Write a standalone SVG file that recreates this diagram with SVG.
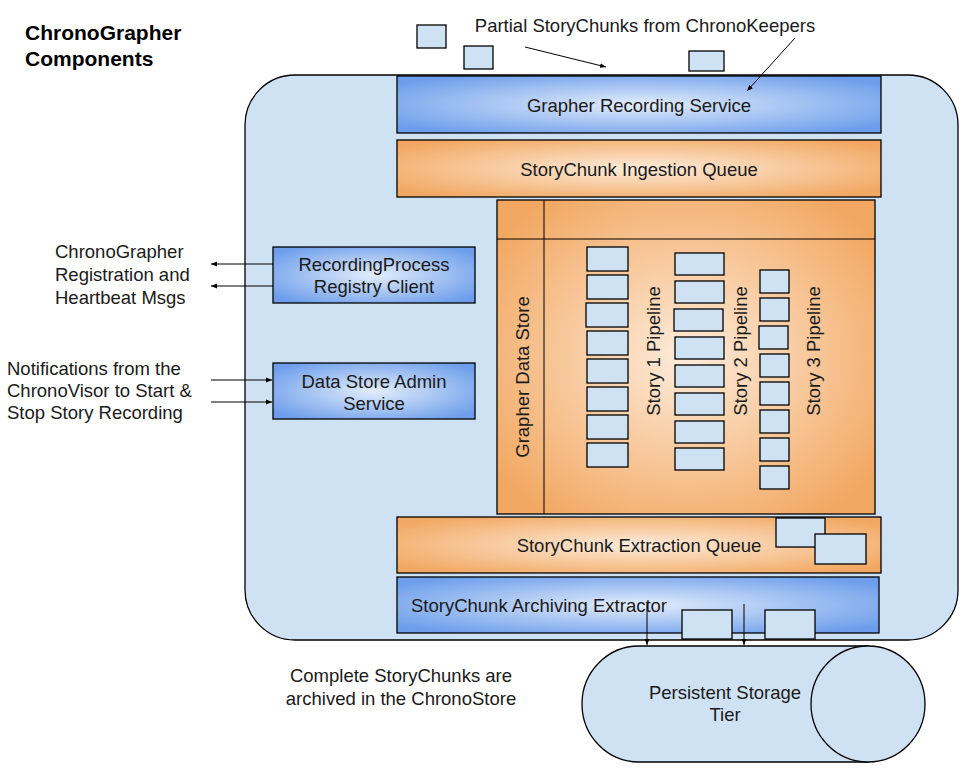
<svg xmlns="http://www.w3.org/2000/svg" width="963" height="772" viewBox="0 0 963 772">
<style>
text{font-family:"Liberation Sans",Arial,sans-serif;fill:#1a1a1a;font-size:18.5px}
.c{text-anchor:middle}
.title{font-weight:bold;font-size:21px;fill:#000}
.lb{fill:#cfe2f3;stroke:#000;stroke-width:1.3}
.bl{fill:url(#gb);stroke:#000;stroke-width:1.3}
.or{fill:url(#go);stroke:#000;stroke-width:1.3}
.ln{stroke:#000;stroke-width:1;fill:none}
.arr{stroke:#000;stroke-width:1;fill:none;marker-end:url(#ah)}
</style>
<defs>
<radialGradient id="gb" cx="50%" cy="50%" r="62%">
<stop offset="0" stop-color="#e3edfb"/>
<stop offset="1" stop-color="#6d9eeb"/>
</radialGradient>
<radialGradient id="go" cx="50%" cy="50%" r="62%">
<stop offset="0" stop-color="#fdecdb"/>
<stop offset="1" stop-color="#f2a862"/>
</radialGradient>
<marker id="ah" viewBox="0 0 10 10" refX="10" refY="5" markerWidth="6" markerHeight="6" markerUnits="userSpaceOnUse" orient="auto">
<path d="M0,1 L10,5 L0,9 z" fill="#000"/>
</marker>
</defs>
<rect width="963" height="772" fill="#fff"/>

<g id="title">
<text class="title" x="25" y="40">ChronoGrapher</text>
<text class="title" x="25" y="66">Components</text>
</g>

<g id="container">
<rect x="245" y="75" width="713" height="565" rx="50" ry="50" class="lb"/>
</g>

<g id="incoming-chunks">
<text x="645" y="32" class="c">Partial StoryChunks from ChronoKeepers</text>
<rect x="417" y="25" width="29" height="23" class="lb"/>
<rect x="464" y="46" width="29" height="23" class="lb"/>
<rect x="689" y="51" width="35" height="20" class="lb"/>
</g>

<g id="recording-service">
<rect x="397" y="76" width="484" height="57" class="bl"/>
<text x="639" y="112" class="c">Grapher Recording Service</text>
</g>

<g id="ingestion-queue">
<rect x="397" y="140" width="484" height="57" class="or"/>
<text x="639" y="176" class="c">StoryChunk Ingestion Queue</text>
</g>

<g id="grapher-data-store">
<rect x="497" y="200" width="378" height="314" class="or"/>
<line x1="544" y1="200" x2="544" y2="514" class="ln"/>
<line x1="497" y1="239" x2="875" y2="239" class="ln"/>
<text transform="translate(529,377) rotate(-90)" class="c">Grapher Data Store</text>
</g>

<g id="story1-pipeline">
<rect x="587" y="247" width="41" height="24" class="lb"/>
<rect x="587" y="275" width="41" height="24" class="lb"/>
<rect x="586" y="303" width="42" height="24" class="lb"/>
<rect x="587" y="331" width="41" height="24" class="lb"/>
<rect x="587" y="359" width="41" height="24" class="lb"/>
<rect x="587" y="387" width="41" height="24" class="lb"/>
<rect x="587" y="415" width="41" height="24" class="lb"/>
<rect x="587" y="443" width="41" height="24" class="lb"/>
<text transform="translate(660,351) rotate(-90)" class="c">Story 1 Pipeline</text>
</g>

<g id="story2-pipeline">
<rect x="675" y="253" width="49" height="22" class="lb"/>
<rect x="675" y="281" width="49" height="22" class="lb"/>
<rect x="674" y="309" width="49" height="22" class="lb"/>
<rect x="675" y="337" width="49" height="22" class="lb"/>
<rect x="675" y="365" width="49" height="22" class="lb"/>
<rect x="675" y="393" width="49" height="22" class="lb"/>
<rect x="675" y="421" width="49" height="22" class="lb"/>
<rect x="675" y="448" width="49" height="22" class="lb"/>
<text transform="translate(747,351) rotate(-90)" class="c">Story 2 Pipeline</text>
</g>

<g id="story3-pipeline">
<rect x="760" y="270" width="29" height="23" class="lb"/>
<rect x="760" y="298" width="29" height="23" class="lb"/>
<rect x="759" y="326" width="29" height="23" class="lb"/>
<rect x="760" y="354" width="29" height="23" class="lb"/>
<rect x="760" y="382" width="29" height="23" class="lb"/>
<rect x="760" y="410" width="29" height="23" class="lb"/>
<rect x="760" y="438" width="29" height="23" class="lb"/>
<rect x="760" y="466" width="29" height="23" class="lb"/>
<text transform="translate(820,351) rotate(-90)" class="c">Story 3 Pipeline</text>
</g>

<g id="registry-client">
<rect x="273" y="247" width="202" height="56" class="bl"/>
<text x="374" y="271" class="c">RecordingProcess</text>
<text x="374" y="293" class="c">Registry Client</text>
</g>

<g id="admin-service">
<rect x="273" y="363" width="202" height="56" class="bl"/>
<text x="374" y="388" class="c">Data Store Admin</text>
<text x="374" y="410" class="c">Service</text>
</g>

<g id="registration-label">
<text x="55" y="258">ChronoGrapher</text>
<text x="55" y="281">Registration and</text>
<text x="55" y="304">Heartbeat Msgs</text>
</g>

<g id="notification-label">
<text x="7" y="375">Notifications from the</text>
<text x="7" y="397">ChronoVisor to Start &amp;</text>
<text x="7" y="419">Stop Story Recording</text>
</g>

<g id="extraction-queue">
<rect x="397" y="517" width="484" height="56" class="or"/>
<text x="639" y="552" class="c">StoryChunk Extraction Queue</text>
<rect x="776" y="518" width="49" height="29" class="lb"/>
<rect x="815" y="534" width="51" height="30" class="lb"/>
</g>

<g id="archiving-extractor">
<rect x="397" y="577" width="482" height="56" class="bl"/>
<text x="411" y="612">StoryChunk Archiving Extractor</text>
<rect x="682" y="610" width="50" height="29" class="lb"/>
<rect x="765" y="610" width="50" height="29" class="lb"/>
</g>

<g id="persistent-storage">
<path d="M868,646 L639,646 A57,58 0 0 0 639,762 L868,762 Z" class="lb"/>
<ellipse cx="868" cy="704" rx="57" ry="58" class="lb"/>
<text x="725" y="699" class="c">Persistent Storage</text>
<text x="725" y="721" class="c">Tier</text>
</g>

<g id="archive-label">
<text x="401" y="682" class="c">Complete StoryChunks are</text>
<text x="401" y="705" class="c">archived in the ChronoStore</text>
</g>

<g id="connectors">
<line x1="525" y1="47" x2="606" y2="67" class="arr"/>
<line x1="795" y1="38" x2="747" y2="91" class="arr"/>
<line x1="273" y1="264" x2="211" y2="264" class="arr"/>
<line x1="273" y1="286" x2="211" y2="286" class="arr"/>
<line x1="211" y1="380" x2="272" y2="380" class="arr"/>
<line x1="211" y1="402" x2="272" y2="402" class="arr"/>
<line x1="647" y1="604" x2="647" y2="645" class="arr"/>
<line x1="744" y1="604" x2="744" y2="645" class="arr"/>
</g>
</svg>
